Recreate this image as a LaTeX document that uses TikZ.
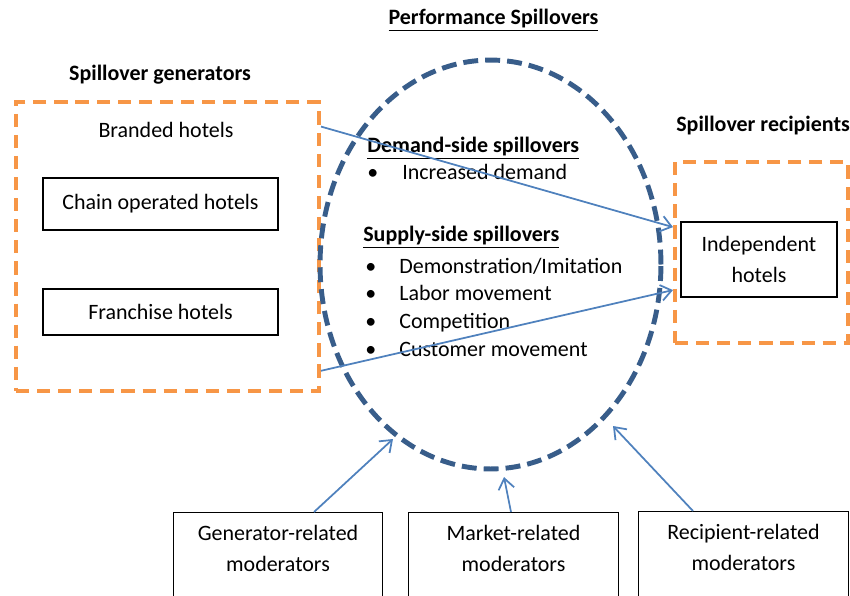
\documentclass[tikz,border=0pt]{standalone}
\usepackage{fontspec}
\setmainfont{Carlito}
\usetikzlibrary{arrows.meta,shapes.geometric,calc}

\definecolor{spillorange}{HTML}{F79646}
\definecolor{spillnavy}{HTML}{385D8A}
\definecolor{spillblue}{HTML}{4F81BD}

\begin{document}
\begin{tikzpicture}[x=0.02cm, y=-0.02cm, font=\fontsize{12.5}{17.5}\selectfont,
    hotelbox/.style={draw, line width=0.7pt, minimum width=4.7cm, inner sep=0pt},
    groupbox/.style={draw=spillorange, line width=2.3pt, dash pattern=on 7.5pt off 4.5pt, inner sep=0pt},
    modbox/.style={draw, line width=0.7pt, minimum width=4.19cm, minimum height=2cm, anchor=north, inner sep=0pt},
    spillarrow/.style={draw=spillblue, line width=1pt, -{Straight Barb[length=6pt,width=9pt]}},
    heading/.style={font=\fontsize{12.5}{17.5}\selectfont\bfseries},
    listtext/.style={anchor=base west, inner sep=0pt}]
    % page is 850 x 596 units, y runs downwards
    \useasboundingbox (0,0) rectangle (850,596);
    \clip (0,0) rectangle (850,596);

    % headings
    \node[heading] (title) at (493.5,20) {\underline{Performance Spillovers}};
    \node[heading] (gentitle) at (160,75) {Spillover generators};
    \node[heading, listtext] (rectitle) at (676,131) {Spillover recipients};

    % generators on the left
    \node[groupbox, minimum width=6.06cm, minimum height=5.78cm] (gens) at (167.5,246.5) {};
    \node (branded) at (166,130) {Branded hotels};
    \node[hotelbox, minimum height=1.04cm] (chain) at (160.5,204) {Chain operated hotels};
    \node[hotelbox, minimum height=0.92cm] (franchise) at (160.5,312) {Franchise hotels};

    % recipients on the right
    \node[groupbox, minimum width=3.46cm, minimum height=3.62cm] (recips) at (761.5,252.5) {};
    \node[hotelbox, minimum width=3.12cm, minimum height=1.5cm, align=center] (indep) at (759,259.5) {Independent\\hotels};

    % the spillovers themselves
    \node[ellipse, draw=spillnavy, line width=2.8pt, dash pattern=on 8.5pt off 4pt,
        minimum width=6.82cm, minimum height=8.18cm, inner sep=0pt, outer sep=0pt] (spill) at (490.5,264.5) {};

    \node[heading, listtext] (demand) at (367,152) {\underline{Demand-side spillovers}};
    \node[listtext] (dbullet) at (367,179) {\textbullet};
    \node[listtext] (dtext) at (402,179) {Increased demand};

    \node[heading, listtext] (supply) at (363,241) {\underline{Supply-side spillovers}};
    \foreach \entry [count=\i] in {Demonstration/Imitation, Labor movement, Competition, Customer movement} {
        \node[listtext] (sbullet\i) at (365, 245.5+27.7*\i) {\textbullet};
        \node[listtext] (stext\i) at (399, 245.5+27.7*\i) {\entry};
    }

    % moderators along the bottom
    \node[modbox] (genmod) at (278,512) {};
    \node[align=center] (genmodtxt) at (278,548.5) {Generator-related\\moderators};
    \node[modbox] (mktmod) at (513.5,512) {};
    \node[align=center] (mktmodtxt) at (513.5,548.5) {Market-related\\moderators};
    \node[modbox] (recmod) at (743.5,511) {};
    \node[align=center] (recmodtxt) at (743.5,547.5) {Recipient-related\\moderators};

    \coordinate (gentip) at (393,439);
    \coordinate (mkttip) at (504,477);
    \coordinate (rectip) at (613,426);

    % arrows
    \draw[spillarrow] (gens.38.8) -- (recips.164.2);
    \draw[spillarrow] (gens.-39) -- (recips.203.7);
    \draw[spillarrow] ($(genmod.north)+(36,0)$) -- (gentip);
    \draw[spillarrow] ($(mktmod.north)+(-2.5,0)$) -- (mkttip);
    \draw[spillarrow] ($(recmod.north)+(-50.5,0)$) -- (rectip);
\end{tikzpicture}
\end{document}
